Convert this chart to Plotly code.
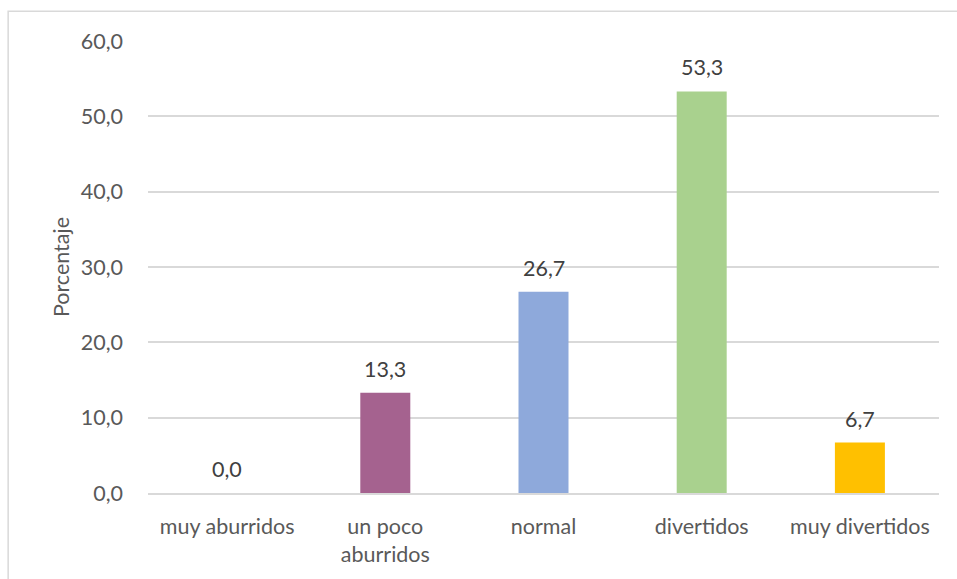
import plotly.graph_objects as go

categorias = ["muy aburridos", "un poco<br>aburridos", "normal", "divertidos", "muy divertidos"]
porcentajes = [0.0, 13.3, 26.7, 53.3, 6.7]
colores = ["#A5A5A5", "#A5628F", "#8EA9DB", "#A9D18E", "#FFC000"]
ticks_y = [0, 10, 20, 30, 40, 50, 60]

FONT = "Lato"
SIZE = 21.5
TICK_COLOR = "#595959"
LABEL_COLOR = "#404040"

fig = go.Figure()
fig.add_trace(go.Bar(
    x=categorias,
    y=porcentajes,
    marker=dict(color=colores, line=dict(width=0)),
    width=0.316,
    hoverinfo="x+y",
))

# value labels above each bar
for cat, val in zip(categorias, porcentajes):
    fig.add_annotation(
        x=cat, y=val, xref="x", yref="y",
        text=f"{val:.1f}".replace(".", ","),
        showarrow=False, yanchor="bottom", yshift=9,
        font=dict(family=FONT, size=SIZE, color=LABEL_COLOR),
    )

# light frame around the chart
fig.add_shape(
    type="rect", xref="paper", yref="paper",
    x0=-0.1768, x1=1.1, y0=-0.4, y1=1.066,
    line=dict(color="#D9D9D9", width=1.5), layer="below",
)

fig.update_layout(
    width=957, height=579,
    margin=dict(l=148, r=18, t=41, b=82),
    paper_bgcolor="white", plot_bgcolor="white",
    separators=",.",
    showlegend=False,
    font=dict(family=FONT, size=SIZE, color=TICK_COLOR),
    xaxis=dict(
        showgrid=False, showline=True, linecolor="#D9D9D9", linewidth=1.5,
        ticks="", tickfont=dict(family=FONT, size=SIZE, color=TICK_COLOR),
        ticklabelstandoff=13,
    ),
    yaxis=dict(
        range=[0, 60], tickvals=ticks_y, tickformat=".1f",
        showgrid=True, gridcolor="#D9D9D9", gridwidth=1.5,
        zeroline=False, showline=False, ticks="",
        tickfont=dict(family=FONT, size=SIZE, color=TICK_COLOR),
        ticklabelstandoff=24,
        title=dict(text="Porcentaje", standoff=5,
                   font=dict(family=FONT, size=SIZE, color=TICK_COLOR)),
    ),
)

fig.write_html("out.html")
